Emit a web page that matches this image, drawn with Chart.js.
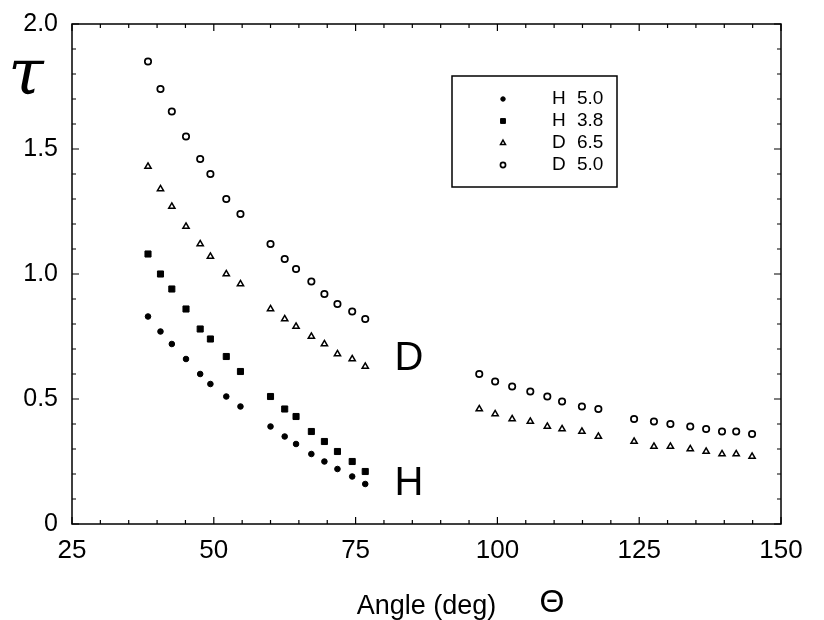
<!DOCTYPE html>
<html>
<head>
<meta charset="utf-8">
<script src="https://cdn.jsdelivr.net/npm/chart.js@4.4.1/dist/chart.umd.min.js"></script>
<style>
  html, body { margin: 0; padding: 0; background: #fff; }
  #wrap { width: 824px; height: 620px; }
</style>
</head>
<body>
<div id="wrap"><canvas id="chart" width="824" height="620"></canvas></div>
<script>
// angles (deg) of the measured points
const anglesLow = [38.4, 40.6, 42.6, 45.1, 47.6, 49.4, 52.2, 54.7, 60.0, 62.5, 64.5, 67.2, 69.5, 71.8, 74.4, 76.7];
const anglesHigh = [96.8, 99.6, 102.6, 105.8, 108.8, 111.4, 114.9, 117.8, 124.1, 127.6, 130.5, 134.0, 136.8, 139.6, 142.1, 144.9];

// tau values per series
const h50 = [0.83, 0.77, 0.72, 0.66, 0.60, 0.56, 0.51, 0.47, 0.39, 0.35, 0.32, 0.28, 0.25, 0.22, 0.19, 0.16];
const h38 = [1.08, 1.00, 0.94, 0.86, 0.78, 0.74, 0.67, 0.61, 0.51, 0.46, 0.43, 0.37, 0.33, 0.29, 0.25, 0.21];
const d65 = [1.43, 1.34, 1.27, 1.19, 1.12, 1.07, 1.00, 0.96, 0.86, 0.82, 0.79, 0.75, 0.72, 0.68, 0.66, 0.63,
             0.46, 0.44, 0.42, 0.41, 0.39, 0.38, 0.37, 0.35, 0.33, 0.31, 0.31, 0.30, 0.29, 0.28, 0.28, 0.27];
const d50 = [1.85, 1.74, 1.65, 1.55, 1.46, 1.40, 1.30, 1.24, 1.12, 1.06, 1.02, 0.97, 0.92, 0.88, 0.85, 0.82,
             0.60, 0.57, 0.55, 0.53, 0.51, 0.49, 0.47, 0.46, 0.42, 0.41, 0.40, 0.39, 0.38, 0.37, 0.37, 0.36];

const seriesLabels = [["H", "5.0"], ["H", "3.8"], ["D", "6.5"], ["D", "5.0"]];
const groupLabels = [{ text: "D", x: 84.4, y: 0.66 }, { text: "H", x: 84.4, y: 0.16 }];

const FONT = "Arial, 'Liberation Sans', sans-serif";

function toPoints(xs, ys) {
  return ys.map((v, i) => ({ x: xs[i], y: v }));
}
const anglesAll = anglesLow.concat(anglesHigh);

// frame, inward ticks, legend and the D / H / tau / theta annotations
const decorations = {
  id: "decorations",
  afterDraw(chart) {
    const ctx = chart.ctx;
    const area = chart.chartArea;
    const xs = chart.scales.x;
    const ys = chart.scales.y;
    ctx.save();
    ctx.strokeStyle = "#000";
    ctx.fillStyle = "#000";

    // box
    ctx.lineWidth = 1.5;
    ctx.strokeRect(area.left, area.top, area.right - area.left, area.bottom - area.top);

    // ticks pointing inwards
    ctx.lineWidth = 1.2;
    ctx.beginPath();
    xs.ticks.forEach(t => {
      const px = xs.getPixelForValue(t.value);
      const len = t.value % 25 === 0 ? 7 : 4;
      ctx.moveTo(px, area.bottom); ctx.lineTo(px, area.bottom - len);
      ctx.moveTo(px, area.top); ctx.lineTo(px, area.top + len);
    });
    ys.ticks.forEach(t => {
      const py = ys.getPixelForValue(t.value);
      const major = Math.abs(t.value * 2 - Math.round(t.value * 2)) < 1e-6;
      const len = major ? 7 : 4;
      ctx.moveTo(area.left, py); ctx.lineTo(area.left + len, py);
      ctx.moveTo(area.right, py); ctx.lineTo(area.right - len, py);
    });
    ctx.stroke();

    // legend
    const lx = area.left + 380, ly = area.top + 52, lw = 165, lh = 111;
    ctx.lineWidth = 1.5;
    ctx.strokeRect(lx, ly, lw, lh);
    ctx.font = "19px " + FONT;
    ctx.textBaseline = "middle";
    ctx.textAlign = "left";
    chart.data.datasets.forEach((ds, i) => {
      const rowY = ly + 23 + i * 22;
      ctx.fillStyle = ds.backgroundColor;
      ctx.strokeStyle = "#000";
      ctx.lineWidth = ds.borderWidth;
      Chart.helpers.drawPoint(ctx, {
        pointStyle: ds.pointStyle,
        radius: ds.pointRadius * 0.8,
        rotation: 0,
        borderWidth: ds.borderWidth
      }, lx + 51, rowY);
      ctx.fillStyle = "#000";
      ctx.fillText(seriesLabels[i][0], lx + 100, rowY);
      ctx.fillText(seriesLabels[i][1], lx + 125, rowY);
    });

    // group letters
    ctx.font = "40px " + FONT;
    ctx.textAlign = "center";
    groupLabels.forEach(g => {
      ctx.fillText(g.text, xs.getPixelForValue(g.x), ys.getPixelForValue(g.y));
    });

    // theta next to the x axis title
    ctx.font = "32px " + FONT;
    ctx.fillText("Θ", 552, 603);

    // tau symbol for the y axis
    ctx.font = "italic 64px 'DejaVu Serif', serif";
    ctx.fillText("τ", 26, 77);
    ctx.restore();
  }
};

new Chart(document.getElementById("chart"), {
  type: "scatter",
  data: {
    datasets: [
      {
        label: "H 5.0",
        data: toPoints(anglesLow, h50),
        pointStyle: "circle",
        pointRadius: 2.8,
        backgroundColor: "#000",
        borderColor: "#000",
        borderWidth: 1
      },
      {
        label: "H 3.8",
        data: toPoints(anglesLow, h38),
        pointStyle: "rect",
        pointRadius: 4.3,
        backgroundColor: "#000",
        borderColor: "#000",
        borderWidth: 1
      },
      {
        label: "D 6.5",
        data: toPoints(anglesAll, d65),
        pointStyle: "triangle",
        pointRadius: 3.6,
        backgroundColor: "#fff",
        borderColor: "#000",
        borderWidth: 1.5
      },
      {
        label: "D 5.0",
        data: toPoints(anglesAll, d50),
        pointStyle: "circle",
        pointRadius: 3.2,
        backgroundColor: "#fff",
        borderColor: "#000",
        borderWidth: 1.7
      }
    ]
  },
  options: {
    responsive: false,
    animation: false,
    layout: { padding: { top: 24, right: 43, left: 0, bottom: 0 } },
    plugins: {
      legend: { display: false },
      tooltip: { enabled: false }
    },
    scales: {
      x: {
        type: "linear",
        min: 25,
        max: 150,
        afterFit: s => { s.height = 96; s.paddingLeft = 0; s.paddingRight = 0; },
        border: { display: false },
        grid: { drawOnChartArea: false, drawTicks: false, display: false },
        ticks: {
          stepSize: 5,
          autoSkip: false,
          maxRotation: 0,
          padding: 11,
          color: "#000",
          font: { family: FONT, size: 26 },
          callback: v => (v % 25 === 0 ? String(v) : "")
        },
        title: {
          display: true,
          text: "Angle (deg)",
          color: "#000",
          font: { family: FONT, size: 27, lineHeight: 1 },
          padding: { top: 0, bottom: 0 }
        }
      },
      y: {
        min: 0,
        max: 2,
        afterFit: s => { s.width = 72; s.paddingTop = 0; s.paddingBottom = 0; },
        border: { display: false },
        grid: { drawOnChartArea: false, drawTicks: false, display: false },
        ticks: {
          stepSize: 0.1,
          autoSkip: false,
          padding: 14,
          color: "#000",
          font: { family: FONT, size: 25 },
          callback: v => {
            if (Math.abs(v * 2 - Math.round(v * 2)) > 1e-6) return "";
            return v === 0 ? "0" : v.toFixed(1);
          }
        }
      }
    }
  },
  plugins: [decorations]
});
</script>
</body>
</html>
